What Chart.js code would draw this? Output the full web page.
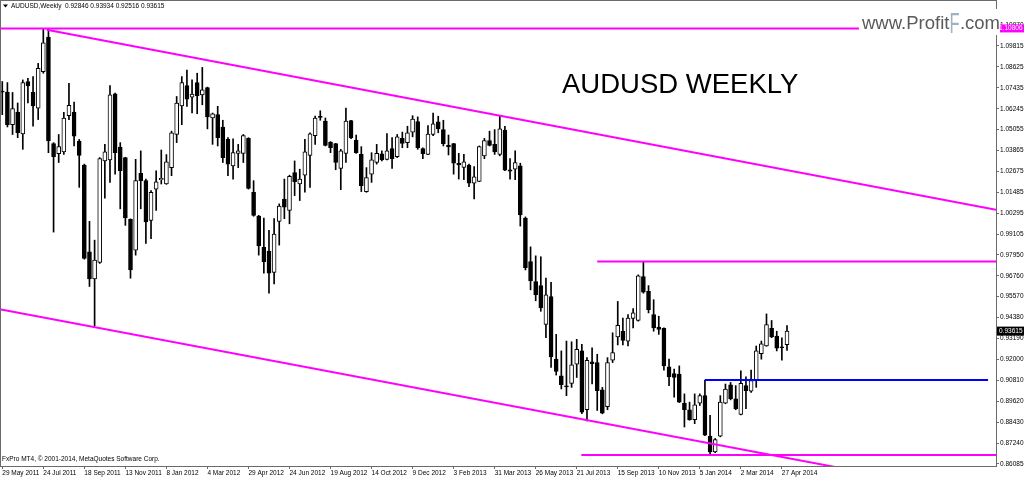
<!DOCTYPE html>
<html>
<head>
<meta charset="utf-8">
<title>AUDUSD Weekly</title>
<script src="https://cdn.jsdelivr.net/npm/chart.js@4.4.1/dist/chart.umd.min.js"></script>
<style>
  html, body { margin: 0; padding: 0; background: #fff; }
  canvas { display: block; }
</style>
</head>
<body>
<canvas id="audusd-chart" width="1024" height="478"></canvas>
<script>
// ====Weekly candles, one per week from 29 May 2011====
var open = [
  1.0724, 1.0719, 1.0534, 1.0606, 1.0482, 1.0779, 1.0717, 1.0628, 1.0835, 1.1032,
  1.0426, 1.0369, 1.0379, 1.0585, 1.0606, 1.0441, 1.0304, 0.9812, 0.9658, 0.9752,
  1.0328, 1.0334, 1.0709, 1.0407, 1.0347, 0.9996, 0.9821, 1.0257, 1.0216, 0.9990,
  1.0168, 1.0221, 1.0197, 1.0290, 1.0478, 1.0641, 1.0756, 1.0690, 1.0773, 1.0703,
  1.0745, 1.0572, 1.0591, 1.0520, 1.0450, 1.0300, 1.0371, 1.0371, 1.0456, 1.0150,
  1.0015, 0.9837, 0.9816, 0.9695, 0.9985, 1.0112, 1.0047, 1.0262, 1.0197, 1.0247,
  1.0360, 1.0472, 1.0578, 1.0554, 1.0435, 1.0426, 1.0285, 1.0371, 1.0557, 1.0447,
  1.0365, 1.0154, 1.0253, 1.0319, 1.0369, 1.0337, 1.0398, 1.0352, 1.0456, 1.0432,
  1.0492, 1.0551, 1.0398, 1.0365, 1.0478, 1.0550, 1.0506, 1.0416, 1.0426, 1.0315,
  1.0291, 1.0304, 1.0202, 1.0212, 1.0357, 1.0444, 1.0422, 1.0365, 1.0503, 1.0277,
  1.0281, 1.0300, 1.0003, 0.9756, 0.9643, 0.9620, 0.9399, 0.9558, 0.9202, 0.9108,
  0.9047, 0.9065, 0.9174, 0.9249, 0.8915, 0.9187, 0.9183, 0.9028, 0.8933, 0.9196,
  0.9328, 0.9361, 0.9305, 0.9433, 0.9422, 0.9671, 0.9587, 0.9455, 0.9384, 0.9377,
  0.9159, 0.9121, 0.9118, 0.8952, 0.8915, 0.8859, 0.8952, 0.8995, 0.8766, 0.8676,
  0.8765, 0.8952, 0.9057, 0.8977, 0.8888, 0.9052, 0.9020, 0.9084, 0.9234, 0.9277,
  0.9377, 0.9333, 0.9270, 0.92846
];
var high = [
  1.0779, 1.0773, 1.0717, 1.0657, 1.0788, 1.0797, 1.0807, 1.0882, 1.1081, 1.1079,
  1.0432, 1.0478, 1.0604, 1.0769, 1.0662, 1.0450, 1.0310, 0.9985, 0.9878, 1.0347,
  1.0422, 1.0756, 1.0713, 1.0432, 1.0349, 0.9999, 1.0337, 1.0385, 1.0225, 1.0159,
  1.0272, 1.0390, 1.0364, 1.0497, 1.0694, 1.0807, 1.0844, 1.0788, 1.0826, 1.0859,
  1.0747, 1.0600, 1.0638, 1.0559, 1.0460, 1.0454, 1.0422, 1.0478, 1.0460, 1.0216,
  1.0019, 1.0003, 0.9934, 1.0000, 1.0084, 1.0225, 1.0247, 1.0328, 1.0281, 1.0450,
  1.0488, 1.0582, 1.0613, 1.0572, 1.0438, 1.0428, 1.0394, 1.0628, 1.0559, 1.0475,
  1.0409, 1.0290, 1.0375, 1.0422, 1.0385, 1.0484, 1.0460, 1.0478, 1.0492, 1.0525,
  1.0585, 1.0578, 1.0403, 1.0529, 1.0600, 1.0582, 1.0559, 1.0475, 1.0428, 1.0371,
  1.0365, 1.0310, 1.0296, 1.0413, 1.0456, 1.0497, 1.0506, 1.0585, 1.0525, 1.0341,
  1.0385, 1.0315, 1.0010, 0.9840, 0.9789, 0.9784, 0.9662, 0.9639, 0.9343, 0.9249,
  0.9305, 0.9301, 0.9315, 0.9287, 0.9211, 0.9267, 0.9230, 0.9042, 0.9211, 0.9352,
  0.9530, 0.9436, 0.9455, 0.9489, 0.9681, 0.9757, 0.9620, 0.9540, 0.9446, 0.9380,
  0.9202, 0.9146, 0.9164, 0.9005, 0.8958, 0.9005, 0.9005, 0.9084, 0.8883, 0.8752,
  0.8995, 0.9061, 0.9070, 0.9052, 0.9136, 0.9102, 0.9140, 0.9277, 0.9305, 0.9459,
  0.9422, 0.9361, 0.9324, 0.93934
];
var low = [
  1.0591, 1.0521, 1.0478, 1.0460, 1.0394, 1.0657, 1.0525, 1.0563, 1.0826, 1.0375,
  0.9924, 1.0319, 1.0365, 1.0563, 1.0413, 1.0178, 0.9770, 0.9615, 0.9390, 0.9746,
  1.0116, 1.0206, 1.0253, 1.0056, 0.9962, 0.9662, 0.9793, 1.0056, 0.9859, 0.9887,
  1.0047, 1.0197, 1.0195, 1.0244, 1.0432, 1.0534, 1.0638, 1.0600, 1.0596, 1.0647,
  1.0510, 1.0422, 1.0413, 1.0319, 1.0244, 1.0225, 1.0290, 1.0319, 1.0168, 1.0014,
  0.9793, 0.9690, 0.9577, 0.9630, 0.9850, 1.0000, 0.9971, 1.0131, 1.0103, 1.0150,
  1.0178, 1.0422, 1.0559, 1.0413, 1.0375, 1.0278, 1.0165, 1.0319, 1.0454, 1.0371,
  1.0154, 1.0150, 1.0206, 1.0310, 1.0328, 1.0334, 1.0285, 1.0347, 1.0403, 1.0403,
  1.0465, 1.0394, 1.0341, 1.0363, 1.0472, 1.0488, 1.0413, 1.0362, 1.0253, 1.0225,
  1.0221, 1.0182, 1.0112, 1.0210, 1.0341, 1.0413, 1.0365, 1.0357, 1.0272, 1.0225,
  1.0221, 0.9958, 0.9709, 0.9596, 0.9534, 0.9474, 0.9324, 0.9155, 0.9112, 0.9033,
  0.8995, 0.9042, 0.9098, 0.8892, 0.8851, 0.9061, 0.8911, 0.8892, 0.8915, 0.9183,
  0.9283, 0.9283, 0.9277, 0.9380, 0.9418, 0.9577, 0.9465, 0.9361, 0.9343, 0.9140,
  0.9052, 0.8986, 0.8956, 0.8817, 0.8855, 0.8836, 0.8939, 0.8768, 0.8658, 0.8671,
  0.8761, 0.8949, 0.8971, 0.8915, 0.8886, 0.8921, 0.9014, 0.9042, 0.9202, 0.9275,
  0.9324, 0.9249, 0.9196, 0.92516
];
var close = [
  1.0719, 1.0534, 1.0625, 1.0488, 1.0773, 1.0754, 1.0641, 1.0854, 1.0998, 1.0441,
  1.0352, 1.0409, 1.0572, 1.0644, 1.0469, 1.0360, 0.9774, 0.9658, 0.9765, 1.0341,
  1.0379, 1.0703, 1.0375, 1.0272, 1.0005, 0.9709, 1.0216, 1.0216, 0.9981, 1.0150,
  1.0210, 1.0229, 1.0323, 1.0488, 1.0657, 1.0773, 1.0679, 1.0707, 1.0698, 1.0732,
  1.0578, 1.0595, 1.0460, 1.0347, 1.0310, 1.0375, 1.0385, 1.0472, 1.0172, 1.0019,
  0.9846, 0.9756, 0.9690, 0.9912, 1.0071, 1.0065, 1.0240, 1.0210, 1.0225, 1.0379,
  1.0482, 1.0572, 1.0575, 1.0416, 1.0403, 1.0319, 1.0385, 1.0554, 1.0460, 1.0375,
  1.0188, 1.0234, 1.0334, 1.0371, 1.0334, 1.0385, 1.0341, 1.0465, 1.0427, 1.0488,
  1.0566, 1.0403, 1.0369, 1.0480, 1.0538, 1.0510, 1.0426, 1.0407, 1.0315, 1.0306,
  1.0323, 1.0202, 1.0238, 1.0409, 1.0444, 1.0416, 1.0379, 1.0510, 1.0275, 1.0270,
  1.0319, 1.0022, 0.9722, 0.9647, 0.9568, 0.9493, 0.9568, 0.9215, 0.9132, 0.9057,
  0.9045, 0.9170, 0.9258, 0.8901, 0.9196, 0.9177, 0.9024, 0.8896, 0.9183, 0.9239,
  0.9394, 0.9309, 0.9436, 0.9465, 0.9675, 0.9583, 0.9484, 0.9380, 0.9371, 0.9164,
  0.9102, 0.9099, 0.8958, 0.8915, 0.8859, 0.8943, 0.8995, 0.8770, 0.8676, 0.8746,
  0.8958, 0.9033, 0.8977, 0.8921, 0.9065, 0.9024, 0.9080, 0.9249, 0.9290, 0.9399,
  0.9328, 0.9264, 0.9267, 0.93615
];

// ====Axis ticks====
var xTickIndex = [0, 8, 16, 24, 32, 40, 48, 56, 64, 72, 80, 88, 96, 104, 112, 120, 128, 136, 144, 152];
var xTickLabels = ['29 May 2011', '24 Jul 2011', '18 Sep 2011', '13 Nov 2011', '8 Jan 2012', '4 Mar 2012',
  '29 Apr 2012', '24 Jun 2012', '19 Aug 2012', '14 Oct 2012', '9 Dec 2012', '3 Feb 2013', '31 Mar 2013',
  '26 May 2013', '21 Jul 2013', '15 Sep 2013', '10 Nov 2013', '5 Jan 2014', '2 Mar 2014', '27 Apr 2014'];
var yTicks = [1.10970, 1.09815, 1.08625, 1.07435, 1.06245, 1.05055, 1.03865, 1.02675, 1.01485, 1.00295,
  0.99105, 0.97950, 0.96760, 0.95570, 0.94380, 0.93190, 0.92000, 0.90810, 0.89620, 0.88430, 0.87240, 0.86085];

// ====Drawn objects: [week index, price] end points====
var topLevel = [[-0.25, 1.10806], [193.75, 1.10806]];
var channelUpper = [[8.65, 1.1073], [193.75, 1.0050]];
var channelLower = [[-0.25, 0.94847], [170, 0.85478]];
var level9757 = [[116, 0.97573], [193.75, 0.97573]];
var level9084 = [[137, 0.90838], [192.2, 0.90838]];
var level8657 = [[112.9, 0.86575], [193.75, 0.86575]];

Chart.defaults.font.family = '"Liberation Sans", Arial, sans-serif';
Chart.defaults.font.size = 6.5;
Chart.defaults.color = '#000';

var bodies = [], wicks = [], bodyFill = [];
for (var i = 0; i < open.length; i++) {
  wicks.push({x: i, y: [low[i], high[i]]});
  bodies.push({x: i, y: [Math.min(open[i], close[i]), Math.max(open[i], close[i])]});
  bodyFill.push(close[i] >= open[i] ? '#ffffff' : '#000000');
}

function segment(points) {
  return points.map(function (p) { return {x: p[0], y: p[1]}; });
}

function lineSet(points, color) {
  return {
    type: 'line',
    data: segment(points),
    borderColor: color,
    borderWidth: 2,
    pointRadius: 0,
    fill: false,
    tension: 0,
    order: 0
  };
}

// ====Frame, labels and texts around the plot====
var overlay = {
  id: 'overlay',
  afterDraw: function (chart) {
    var ctx = chart.ctx;
    var y = chart.scales.y;
    var last = open.length - 1;
    ctx.save();

    ctx.strokeStyle = '#6a6a6a';
    ctx.lineWidth = 1;
    ctx.strokeRect(0.5, 0.5, 996, 466);

    // price labels on the right scale
    ctx.textBaseline = 'middle';
    ctx.textAlign = 'left';
    ctx.font = '6.5px "Liberation Sans", Arial';
    var py = y.getPixelForValue(close[last]);
    ctx.fillStyle = '#000';
    ctx.fillRect(997, py - 4.5, 27, 9);
    ctx.fillStyle = '#fff';
    ctx.fillText(close[last].toFixed(5), 999, py);

    var ty = y.getPixelForValue(topLevel[0][1]);
    ctx.fillStyle = '#ff00ff';
    ctx.fillRect(997, ty - 4, 27, 8);
    ctx.fillStyle = '#fff';
    ctx.fillText(topLevel[0][1].toFixed(5), 999, ty);

    // symbol line
    ctx.fillStyle = '#000';
    ctx.beginPath();
    ctx.moveTo(3, 4.5); ctx.lineTo(8, 4.5); ctx.lineTo(5.5, 7.5);
    ctx.closePath();
    ctx.fill();
    ctx.fillText('AUDUSD,Weekly  ' + [open[last], high[last], low[last], close[last]].map(function (v) {
      return v.toFixed(5);
    }).join(' '), 11, 6.5);

    ctx.fillText('FxPro MT4, \u00a9 2001-2014, MetaQuotes Software Corp.', 2, 459);

    // title
    ctx.textBaseline = 'alphabetic';
    ctx.font = '27.5px "Liberation Sans", Arial';
    ctx.fillText('AUDUSD WEEKLY', 562, 92.5);

    // watermark
    ctx.fillStyle = '#fff';
    ctx.fillRect(859, 9, 141, 26);
    ctx.font = '18.5px "Liberation Sans", Arial';
    ctx.fillStyle = '#5a5a5a';
    ctx.fillText('www.Profit', 862, 28.5);
    var w = ctx.measureText('www.Profit').width;
    ctx.save();
    ctx.translate(862 + w, 33);
    ctx.scale(0.55, 1);
    ctx.font = '30px "Liberation Sans", Arial';
    ctx.fillStyle = '#9db3c4';
    ctx.fillText('F', 0, 0);
    ctx.restore();
    ctx.fillText('.com', 862 + w + 10.5, 28.5);

    ctx.restore();
  }
};

var ctxAud = document.getElementById('audusd-chart').getContext('2d');

var audusdChart = new Chart(ctxAud, {
  type: 'bar',
  data: {
    datasets: [
      lineSet(topLevel, '#ff00ff'),
      lineSet(channelUpper, '#ff00ff'),
      lineSet(channelLower, '#ff00ff'),
      lineSet(level9757, '#ff00ff'),
      lineSet(level8657, '#ff00ff'),
      lineSet(level9084, '#0000ff'),
      {
        data: bodies,
        backgroundColor: bodyFill,
        borderColor: '#000',
        borderWidth: 1,
        borderSkipped: false,
        barThickness: 4,
        minBarLength: 1,
        grouped: false,
        order: 1
      },
      {
        data: wicks,
        backgroundColor: '#000',
        barThickness: 1,
        grouped: false,
        order: 2
      }
    ]
  },
  options: {
    responsive: false,
    animation: false,
    devicePixelRatio: 1,
    layout: {padding: {top: 1, left: 1, right: 0, bottom: 0}},
    plugins: {
      legend: {display: false},
      tooltip: {enabled: false}
    },
    scales: {
      x: {
        type: 'linear',
        min: -0.25,
        max: 193.75,
        offset: false,
        grid: {drawOnChartArea: false, offset: false, tickLength: 3, color: '#6a6a6a'},
        border: {display: false},
        ticks: {
          autoSkip: false,
          maxRotation: 0,
          align: 'start',
          padding: 0,
          callback: function (value, index) { return xTickLabels[index]; }
        },
        afterBuildTicks: function (scale) {
          scale.ticks = xTickIndex.map(function (v) { return {value: v}; });
        },
        afterFit: function (scale) { scale.height = 12; }
      },
      y: {
        type: 'linear',
        position: 'right',
        min: 0.85955,
        max: 1.12141,
        grid: {drawOnChartArea: false, tickLength: 3, color: '#6a6a6a'},
        border: {display: false},
        ticks: {
          padding: 1,
          callback: function (value) { return value.toFixed(5); }
        },
        afterBuildTicks: function (scale) {
          scale.ticks = yTicks.map(function (v) { return {value: v}; });
        },
        afterFit: function (scale) { scale.width = 28; }
      }
    }
  },
  plugins: [overlay]
});
</script>
</body>
</html>
